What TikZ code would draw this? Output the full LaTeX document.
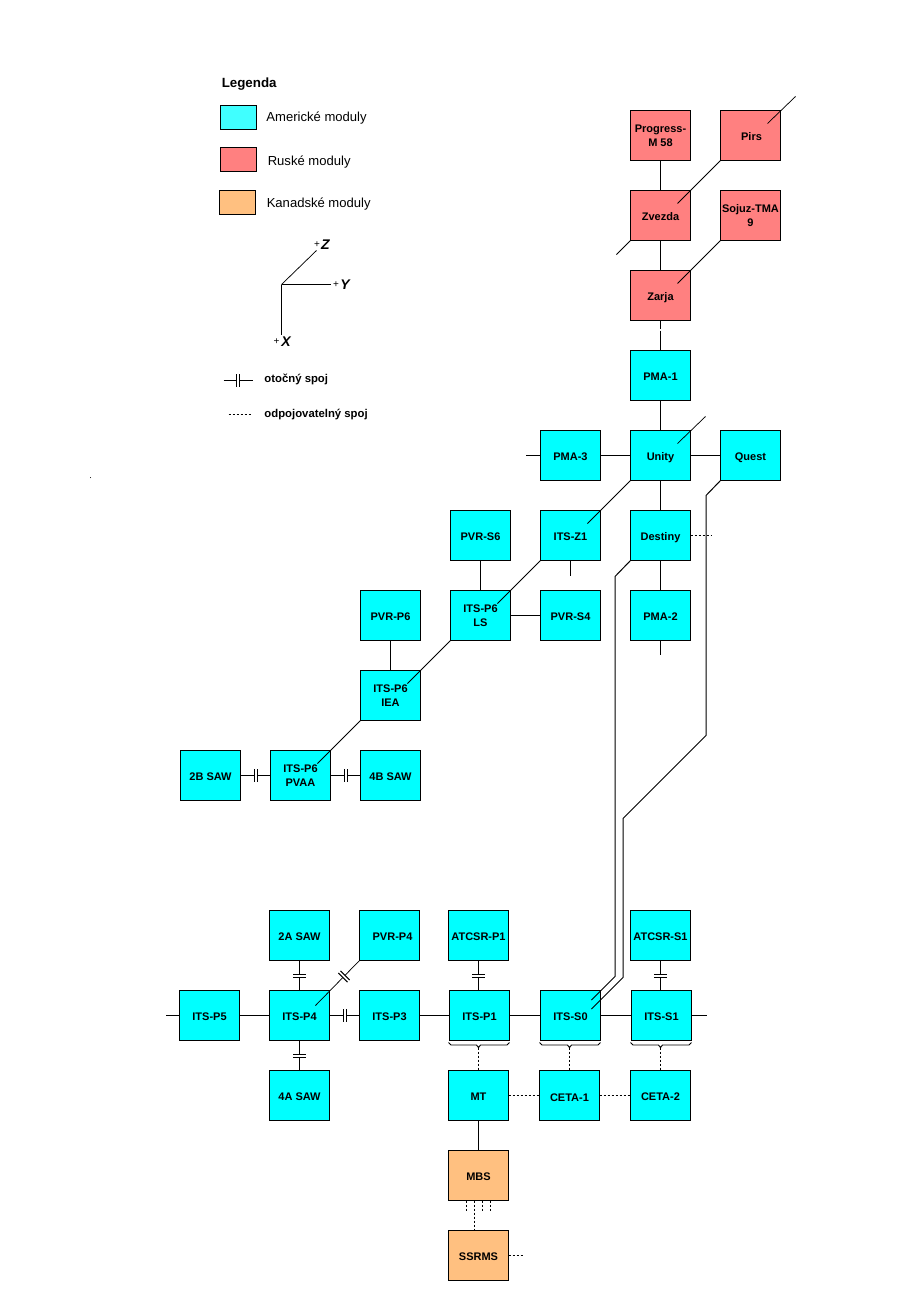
\documentclass[tikz,border=0pt]{standalone}
\usepackage{fontspec}
\setmainfont{Liberation Sans}
\tikzset{
  modbox/.style={draw=black,line width=.75pt,minimum width=45pt,minimum height=37.5pt,inner sep=0pt,outer sep=0pt,align=center,text height=7.4pt,text depth=0pt,font=\fontsize{8.25}{10.2}\selectfont\bfseries},
  twoline/.style={text height={},text depth={}},
  usm/.style={modbox,fill=usc},
  rum/.style={modbox,fill=ruc},
  cam/.style={modbox,fill=cac},
  swatch/.style={draw=black,line width=.75pt,minimum width=26.6pt,minimum height=18pt,inner sep=0pt,outer sep=0pt},
  legtext/.style={anchor=west,inner sep=0pt,font=\fontsize{9.8}{12}\selectfont},
  legbold/.style={anchor=west,inner sep=0pt,font=\fontsize{8.5}{10}\selectfont\bfseries},
  axlab/.style={inner sep=0pt,font=\fontsize{10.5}{12}\selectfont\bfseries\itshape},
  plusl/.style={inner sep=0pt,font=\fontsize{7.5}{9}\selectfont},
  conn/.style={line width=.75pt},
  diag/.style={line width=.55pt},
  dots/.style={line width=.75pt,dash pattern=on 1.5pt off 1.5pt},
  pics/joint/.style={code={
    \fill[white] (-1.5,-6.5) rectangle (1.5,6.5);
    \draw[line width=.7pt] (-1.5,-6.5) -- (-1.5,6.5);
    \draw[line width=.7pt] (1.5,-6.5) -- (1.5,6.5);
  }},
}
\definecolor{usc}{HTML}{00FFFF}
\definecolor{usl}{HTML}{40FFFF}
\definecolor{ruc}{HTML}{FF8080}
\definecolor{cac}{HTML}{FFC080}
\begin{document}
\begin{tikzpicture}[x=.75pt,y=-.75pt]
\useasboundingbox[fill=white] (-.5,-.5) rectangle (899.5,1299.5);

% ---------- Legend
\node[inner sep=0pt,anchor=west,font=\fontsize{10}{12}\selectfont\bfseries] (legtitle) at (221,83.5) {Legenda};
\node[swatch,fill=usl] (swus) at (238,117) {};
\node[swatch,fill=ruc] (swru) at (238,159) {};
\node[swatch,fill=cac] (swca) at (237,202) {};
\node[legtext] (txus) at (265.7,118) {Americké moduly};
\node[legtext] (txru) at (267,162) {Ruské moduly};
\node[legtext] (txca) at (266,204) {Kanadské moduly};

\coordinate (axo) at (281,284);
\coordinate (axz) at (316,250);
\coordinate (axy) at (330,284);
\coordinate (axx) at (281,334);
\draw[diag] (axo) -- (axz);
\draw[conn] (axo) -- (axy);
\draw[conn] (axo) -- (axx);
\node[plusl] (pz) at (316.5,244.5) {+};
\node[axlab] (lz) at (325,244) {Z};
\node[plusl] (py) at (335.5,284.5) {+};
\node[axlab] (ly) at (344.5,284) {Y};
\node[plusl] (px) at (276,341.5) {+};
\node[axlab] (lx) at (285.5,341) {X};

\coordinate (ja) at (223,380);
\coordinate (jb) at (252,380);
\draw[conn] (ja) -- (jb);
\pic at (237.5,380) {joint};
\node[legbold] (txjoint) at (263.7,379) {otočný spoj};
\coordinate (da) at (228,414);
\coordinate (db) at (250.5,414);
\draw[dots] (da) -- (db);
\node[legbold] (txdet) at (263.7,414) {odpojovatelný spoj};
\fill (90,477) circle (.5);

% ---------- Modules: upper part
\node[rum,twoline] (progress) at (660,135) {Progress-\\M 58};
\node[rum] (pirs) at (750,135) {\kern1.5pt Pirs};
\node[rum] (zvezda) at (660,215) {Zvezda};
\node[rum,twoline] (sojuz) at (750,215) {Sojuz-TMA\\9};
\node[rum] (zarja) at (660,295) {Zarja};
\node[usm] (pma1) at (660,375) {PMA-1};
\node[usm] (unity) at (660,455) {Unity};
\node[usm] (pma3) at (570,455) {PMA-3};
\node[usm] (quest) at (750,455) {Quest};
\node[usm] (pvrs6) at (480,535) {PVR-S6};
\node[usm] (itsz1) at (570,535) {ITS-Z1};
\node[usm] (destiny) at (660,535) {Destiny};
\node[usm,twoline] (p6ls) at (480,615) {ITS-P6\\LS};
\node[usm] (pvrs4) at (570,615) {PVR-S4};
\node[usm] (pma2) at (660,615) {PMA-2};
\node[usm] (pvrp6) at (390,615) {PVR-P6};
\node[usm,twoline] (p6iea) at (390,695) {ITS-P6\\IEA};
\node[usm] (saw2b) at (210,775) {2B SAW};
\node[usm,twoline] (p6pvaa) at (300,775) {ITS-P6\\PVAA};
\node[usm] (saw4b) at (390,775) {4B SAW};

% ---------- Modules: lower part
\node[usm] (saw2a) at (299,935) {2A SAW};
\node[usm] (pvrp4) at (389,935) {\kern4.5pt PVR-P4};
\node[usm] (atp1) at (478,935) {ATCSR-P1};
\node[usm] (ats1) at (660,935) {ATCSR-S1};
\node[usm] (itsp5) at (209,1015) {ITS-P5};
\node[usm] (itsp4) at (299,1015) {ITS-P4};
\node[usm] (itsp3) at (389,1015) {ITS-P3};
\node[usm] (itsp1) at (479,1015) {ITS-P1};
\node[usm] (itss0) at (570,1015) {ITS-S0};
\node[usm] (itss1) at (661,1015) {ITS-S1};
\node[usm] (saw4a) at (299,1095) {4A SAW};
\node[usm] (mt) at (478,1095) {MT};
\node[usm] (ceta1) at (569,1095) {\raisebox{-.8pt}{CETA-1}};
\node[usm] (ceta2) at (660,1095) {CETA-2};
\node[cam] (mbs) at (478,1175) {MBS};
\node[cam] (ssrms) at (478,1255) {SSRMS};

% ---------- Free ends and inner ends of connectors
\coordinate (pirsout) at (795,96);
\coordinate (pirsin) at (767,123);
\coordinate (zvin) at (677,203);
\coordinate (zvout) at (616,254);
\coordinate (zain) at (677,283);
\coordinate (unin) at (677,443);
\coordinate (unout) at (705,416);
\coordinate (z1in) at (587,523);
\coordinate (lsin) at (497,603);
\coordinate (ieain) at (407,683);
\coordinate (pvaain) at (317,763);
\coordinate (pma3out) at (525,455);
\coordinate (z1out) at (570,575);
\coordinate (pma2out) at (660,654);
\coordinate (destout) at (711,535);
\coordinate (p5out) at (165,1015);
\coordinate (s1out) at (706,1015);
\coordinate (p4in) at (315,1005);
\coordinate (ssout) at (522,1255);

% ---------- Solid connectors
\draw[conn] (progress) -- (zvezda);
\draw[conn] (zvezda) -- (zarja);
\draw[conn,dash pattern=on 6.4pt off 1.1pt on 30pt off 0pt] (zarja) -- (pma1);
\draw[conn] (pma1) -- (unity);
\draw[conn] (unity) -- (destiny);
\draw[conn] (destiny) -- (pma2);
\draw[conn] (pma3) -- (unity);
\draw[conn] (unity) -- (quest);
\draw[conn] (pma3) -- (pma3out);
\draw[conn] (itsz1) -- (z1out);
\draw[conn] (pma2) -- (pma2out);
\draw[conn] (pvrs6) -- (p6ls);
\draw[conn] (p6ls) -- (pvrs4);
\draw[conn] (pvrp6) -- (p6iea);
\draw[conn] (saw2b) -- (p6pvaa);
\draw[conn] (p6pvaa) -- (saw4b);

\draw[diag] (pirsin) -- (pirsout);
\draw[diag] (pirs.south west) -- (zvin);
\draw[diag] (zvezda.south west) -- (zvout);
\draw[diag] (sojuz.south west) -- (zain);
\draw[diag] (unin) -- (unout);
\draw[diag] (unity.south west) -- (z1in);
\draw[diag] (itsz1.south west) -- (lsin);
\draw[diag] (p6ls.south west) -- (ieain);
\draw[diag] (p6iea.south west) -- (pvaain);

\draw[conn] (itsp5) -- (p5out);
\draw[conn] (itsp5) -- (itsp4);
\draw[conn] (itsp4) -- (itsp3);
\draw[conn] (itsp3) -- (itsp1);
\draw[conn] (itsp1) -- (itss0);
\draw[conn] (itss0) -- (itss1);
\draw[conn] (itss1) -- (s1out);
\draw[conn] (saw2a) -- (itsp4);
\draw[conn] (itsp4) -- (saw4a);
\draw[conn] (atp1.south) -- (atp1.south |- itsp1.north);
\draw[conn] (ats1.south) -- (ats1.south |- itss1.north);
\draw[conn] (mt) -- (mbs);
\draw[diag] (pvrp4.south west) -- (p4in);

% ---------- Long routed connectors
\draw[conn,line join=miter] (quest.south west) -- (705.5,495) -- (705.5,735) -- (622.5,818) -- (622.5,977) -- (591,1008.5);
\draw[conn,line join=miter] (destiny.south west) -- (614.5,576) -- (614.5,976) -- (591,999.5);

% ---------- Rotary joints
\pic at (255.5,775) {joint};
\pic at (345.5,775) {joint};
\pic at (344.5,1015) {joint};
\pic[rotate=90] at (299,975.5) {joint};
\pic[rotate=90] at (299,1055.5) {joint};
\pic[rotate=90] at (478,975.5) {joint};
\pic[rotate=90] at (660,975.5) {joint};
\pic[rotate=45] at (343.5,976) {joint};

% ---------- Brackets under the truss segments
\coordinate (tipa) at (478,1047);
\coordinate (tipb) at (569,1047);
\coordinate (tipc) at (660,1047);
\draw[line width=.7pt] (448,1042) -- (450.5,1044.5) -- (476,1044.5) -- (tipa) -- (480,1044.5) -- (506.5,1044.5) -- (509,1042);
\draw[line width=.7pt] (539,1042) -- (541.5,1044.5) -- (567,1044.5) -- (tipb) -- (571,1044.5) -- (597.5,1044.5) -- (600,1042);
\draw[line width=.7pt] (630,1042) -- (632.5,1044.5) -- (658,1044.5) -- (tipc) -- (662,1044.5) -- (688.5,1044.5) -- (691,1042);

% ---------- Detachable connectors
\draw[dots] (tipa) -- (mt);
\draw[dots] (tipb) -- (ceta1);
\draw[dots] (tipc) -- (ceta2);
\draw[dots] (mt) -- (ceta1);
\draw[dots] (ceta1) -- (ceta2);
\draw[dots] (destiny) -- (destout);
\draw[dots] (ssrms) -- (ssout);
\coordinate (lega) at (466,1211);
\coordinate (legb) at (482,1211);
\coordinate (legc) at (490,1211);
\coordinate (legd) at (474,1211);
\draw[dots] (lega |- mbs.south) -- (lega);
\draw[dots] (legd |- mbs.south) -- (legd |- ssrms.north);
\draw[dots] (legb |- mbs.south) -- (legb);
\draw[dots] (legc |- mbs.south) -- (legc);
\end{tikzpicture}
\end{document}
